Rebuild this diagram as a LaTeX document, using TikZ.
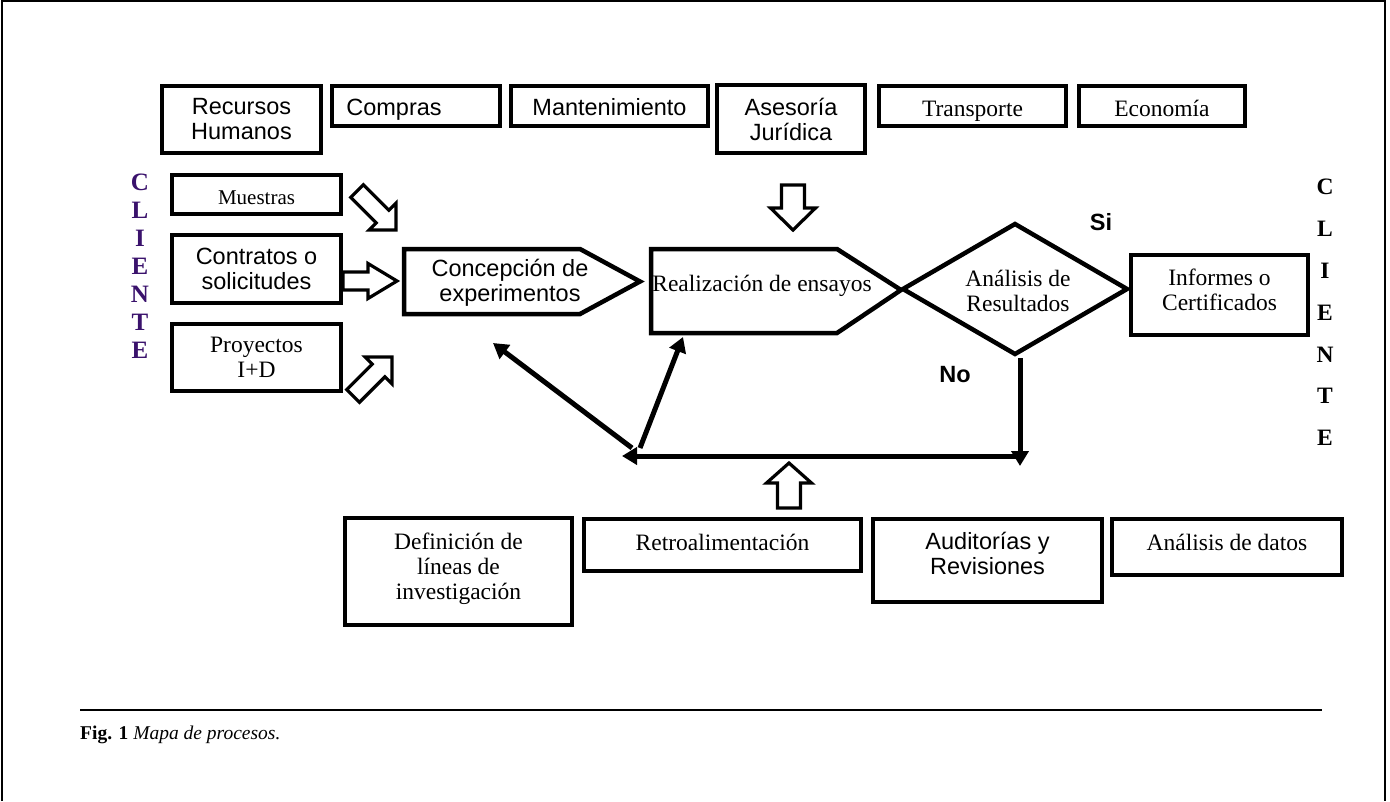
\documentclass[tikz,border=0pt]{standalone}
\usepackage{fontspec}
\setmainfont{Liberation Serif}
\newfontfamily\arialf{Liberation Sans}
\usetikzlibrary{arrows.meta}
\definecolor{clientepurple}{RGB}{58,18,108}
\newcommand{\bArrow}[7]{%
  \draw[barrow, shift={(#1,#2)}, rotate=#3] (0,0) -- (-#5,#7) -- (-#5,#6) -- (-#4,#6) -- (-#4,-#6) -- (-#5,-#6) -- (-#5,-#7) -- cycle;}
\begin{document}
\begin{tikzpicture}[x=1pt,y=-1pt,
  box/.style={draw, line width=4.5pt, inner sep=0pt, outer sep=0pt, align=center},
  sans/.style={font=\arialf\fontsize{23.5}{25}\selectfont, align=center},
  serif/.style={font=\fontsize{23.5}{25}\selectfont, align=center},
  yesno/.style={font=\arialf\bfseries\fontsize{23.5}{25}\selectfont, inner sep=0pt},
  shapeline/.style={draw, line width=4.5pt, line join=miter},
  flow/.style={line width=5pt, -{Triangle[length=15pt,width=17pt]}},
  barrow/.style={draw, line width=3.2pt, line join=miter, fill=white},
  frameline/.style={line width=1.5pt},
]
\useasboundingbox (0,0) rectangle (1390,801);
\draw[frameline] (2,801) -- (2,1) -- (1385,1) -- (1385,801);

% top row
\node[box,sans,minimum width=159pt,minimum height=67pt] (rh) at (241.5,119.5) {Recursos\\Humanos};
\node[box,sans,minimum width=168pt,minimum height=40pt,text height=18pt,text depth=0pt] (comp) at (416,106) {\mbox{Compras\hspace{44pt}}};
\node[box,sans,minimum width=197pt,minimum height=40pt,text height=19pt,text depth=0pt] (mant) at (609.5,106) {Mantenimiento};
\node[box,sans,minimum width=148pt,minimum height=68pt] (ases) at (791,119) {Asesoría\\Jurídica};
\node[box,serif,minimum width=187pt,minimum height=40pt,text height=21pt,text depth=0pt] (trans) at (972.5,106) {Transporte};
\node[box,serif,minimum width=166pt,minimum height=40pt,text height=21pt,text depth=0pt] (eco) at (1162,106) {Economía};

% CLIENTE columns
\node[font=\bfseries\fontsize{25}{28}\selectfont, align=center, inner sep=0pt, text=clientepurple] (cl1) at (140,266) {C\\L\\I\\E\\N\\T\\E};
\node[font=\bfseries\fontsize{23.5}{41.8}\selectfont, align=center, inner sep=0pt] (cl2) at (1325,312.5) {C\\L\\I\\E\\N\\T\\E};

% client inputs
\node[box,font=\fontsize{21}{24}\selectfont,minimum width=169pt,minimum height=39pt,text height=19pt,text depth=0pt] (mues) at (256.5,194.5) {Muestras};
\node[box,sans,minimum width=169pt,minimum height=68pt] (cont) at (256.5,269) {Contratos o\\solicitudes};
\node[box,serif,minimum width=169pt,minimum height=67pt] (proy) at (256.5,357.5) {Proyectos\\I+D};

% process shapes
\draw[shapeline] (404,249) -- (580,249) -- (640,281.5) -- (580,314) -- (404,314) -- cycle;
\node[sans] (conc) at (510,282.5) {Concepción de\\experimentos};
\draw[shapeline] (651,249) -- (837,249) -- (901,290) -- (837,333) -- (651,333) -- cycle;
\node[serif] (real) at (762,286) {Realización de ensayos};
\draw[shapeline] (1015,224) -- (1127,289) -- (1015,354) -- (903,289) -- cycle;
\node[serif] (ana) at (1018,290.5) {Análisis de\\Resultados};
\node[box,serif,minimum width=177pt,minimum height=80pt,text height=41pt,text depth=10pt] (inf) at (1219.5,295) {Informes o\\Certificados};

\node[yesno] (si) at (1101,222) {Si};
\node[yesno] (no) at (955,375) {No};

% connectors
\coordinate (dbot) at (1020,358);
\coordinate (dtip) at (1020,466);
\coordinate (hR) at (1020,456);
\coordinate (hL) at (622,456);
\coordinate (f1) at (632,448);
\coordinate (f2) at (640,448);
\coordinate (concin) at (493,343);
\coordinate (realin) at (683,337);
\draw[flow] (dbot) -- (dtip);
\draw[flow] (hR) -- (hL);
\draw[flow] (f1) -- (concin);
\draw[flow] (f2) -- (realin);

% block arrows
\bArrow{397}{281}{0}{54}{29}{9}{17.5}
\bArrow{396}{230}{-45}{55}{19}{9}{19}
\bArrow{392}{357}{45}{55}{19}{9}{19}
\bArrow{793}{230}{-90}{45}{22}{11.5}{22.5}
\bArrow{789}{463}{90}{45}{20}{11.5}{22.5}

% bottom row
\node[box,serif,minimum width=227pt,minimum height=107pt,text height=62pt,text depth=6pt] (defi) at (458.5,571.5) {Definición de\\líneas de\\investigación};
\node[box,serif,minimum width=277pt,minimum height=52pt,text height=11pt,text depth=0pt] (retro) at (722.5,545) {Retroalimentación};
\node[box,sans,minimum width=229pt,minimum height=83pt,text height=42pt,text depth=15pt] (audi) at (987.5,560.5) {Auditorías y\\Revisiones};
\node[box,serif,minimum width=230pt,minimum height=56pt,text height=7pt,text depth=0pt] (anad) at (1227,547) {Análisis de datos};

% caption
\coordinate (capL) at (80,710);
\coordinate (capR) at (1322,710);
\draw[line width=2pt] (capL) -- (capR);
\node[anchor=base west, inner sep=0pt, font=\fontsize{19.5}{22}\selectfont] (cap) at (80,739) {\textbf{Fig. 1} \textit{Mapa de procesos.}};
\end{tikzpicture}
\end{document}
